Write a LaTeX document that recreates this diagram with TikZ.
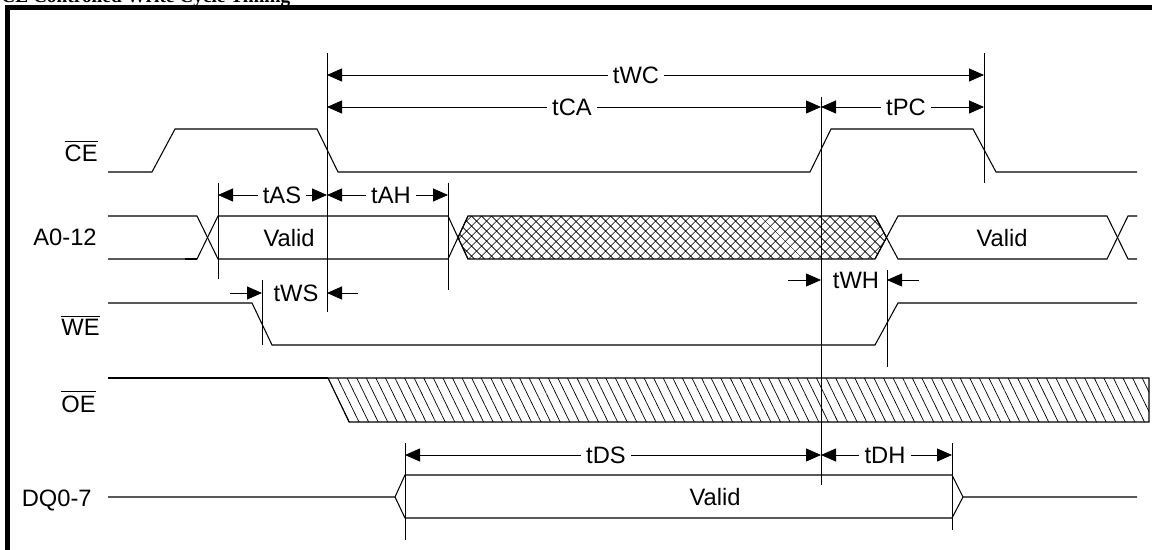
\documentclass[tikz,border=0pt]{standalone}
\usepackage{amsmath}
\usepackage{fontspec}
\setmainfont{Liberation Sans}
\newfontfamily\titlefont{Liberation Serif}
\usetikzlibrary{arrows.meta,patterns.meta}

\tikzset{
  wave/.style={line width=0.6pt},
  guide/.style={line width=0.5pt},
  dim/.style={line width=0.5pt,-{Triangle[length=0.3cm,width=0.26cm]}},
  tlabel/.style={inner xsep=0.1cm,inner ysep=0pt,font=\fontsize{13.5}{16}\selectfont},
  signame/.style={anchor=base east,inner sep=0pt,font=\fontsize{13.5}{16}\selectfont}
}

\begin{document}
\begin{tikzpicture}[x=0.02cm,y=-0.02cm]
\useasboundingbox (0,0) rectangle (1152,550);

% frame
\node[anchor=base west,inner sep=0pt,font=\titlefont\bfseries\fontsize{11}{13}\selectfont] (title) at (1,3) {CE Controlled Write Cycle Timing};
\draw[line width=0.1cm] (7.5,560) -- (7.5,7.5) -- (1160,7.5);

\node[signame] (nCE) at (98,162) {$\overline{\text{CE}}$};
\node[signame] (nA) at (97,246) {A0-12};
\node[signame] (nWE) at (100,336) {$\overline{\text{WE}}$};
\node[signame] (nOE) at (96,412) {$\overline{\text{OE}}$};
\node[signame] (nDQ) at (92,506) {DQ0-7};

% guide lines
\foreach \n/\x/\a/\b in {as/218/183/279, ce/327/53/312, ah/448/183/290, ws/262/280/345,
    ca/821/97/485, wc/984/53/183, wh/887/270/367, ds/405/443/540, dh/952/443/530}{
  \coordinate (\n t) at (\x,\a);
  \coordinate (\n b) at (\x,\b);
  \draw[guide] (\n t) -- (\n b);
}

% CE
\draw[wave] (108,172) -- (152,172) -- (175,129) -- (317,129) -- (338,172) -- (810,172)
  -- (831,129) -- (973,129) -- (996,172) -- (1137,172);

% A0-12
\draw[wave] (108,216) -- (197,216) -- (218,259) -- (448,259) -- (468,216);
\draw[wave] (108,259) -- (197,259) -- (218,216) -- (448,216) -- (468,259);
\draw[line width=1.2pt] (185,259) -- (197,259);
\draw[wave,pattern={Hatch[angle=45,distance=4pt,line width=0.4pt]}]
  (458,237.5) -- (468,216) -- (875,216) -- (886.5,237.5) -- (875,259) -- (468,259) -- cycle;
\draw[wave] (875,216) -- (898,259) -- (1107,259) -- (1128,216) -- (1137,216);
\draw[wave] (875,259) -- (898,216) -- (1107,216) -- (1128,259) -- (1137,259);
\node[tlabel] (vA1) at (289,238) {Valid};
\node[tlabel] (vA2) at (1002,238) {Valid};

% WE
\draw[wave] (108,303) -- (252,303) -- (272,345) -- (875,345) -- (898,303) -- (1137,303);

% OE
\draw[wave] (108,378) -- (328,378);
\draw[wave,pattern={Lines[angle=-64,distance=4.9pt,line width=0.4pt]}]
  (328,378) -- (1149,378) -- (1149,422) -- (349,422) -- cycle;

% DQ
\draw[wave] (108,497) -- (395,497) -- (405,475) -- (952,475) -- (963,497) -- (1137,497);
\draw[wave] (395,497) -- (405,518) -- (952,518) -- (963,497);
\node[tlabel] (vDQ) at (715,497) {Valid};

% timing
\node[tlabel] (lWC) at (636,75) {tWC};
\draw[dim] (lWC) -- (lWC -| cet);
\draw[dim] (lWC) -- (lWC -| wct);

\node[tlabel] (lCA) at (572,107) {tCA};
\draw[dim] (lCA) -- (lCA -| cet);
\draw[dim] (lCA) -- (lCA -| cat);

\node[tlabel] (lPC) at (906,107) {tPC};
\draw[dim] (lPC) -- (lPC -| cat);
\draw[dim] (lPC) -- (lPC -| wct);

\node[tlabel] (lAS) at (282,195) {tAS};
\draw[dim] (lAS) -- (lAS -| ast);
\draw[dim] (lAS) -- (lAS -| cet);

\node[tlabel] (lAH) at (391,195) {tAH};
\draw[dim] (lAH) -- (lAH -| cet);
\draw[dim] (lAH) -- (lAH -| aht);

\node[tlabel] (lWS) at (296,293) {tWS};
\coordinate (wsl) at (230,293);
\coordinate (wsr) at (358,293);
\draw[dim] (wsl) -- (wsl -| wst);
\draw[dim] (wsr) -- (wsr -| cet);

\node[tlabel] (lWH) at (856,280) {tWH};
\coordinate (whl) at (788,280);
\coordinate (whr) at (919,280);
\draw[dim] (whl) -- (whl -| cat);
\draw[dim] (whr) -- (whr -| wht);

\node[tlabel] (lDS) at (606,455) {tDS};
\draw[dim] (lDS) -- (lDS -| dst);
\draw[dim] (lDS) -- (lDS -| cat);

\node[tlabel] (lDH) at (885,455) {tDH};
\draw[dim] (lDH) -- (lDH -| cat);
\draw[dim] (lDH) -- (lDH -| dht);
\end{tikzpicture}
\end{document}
